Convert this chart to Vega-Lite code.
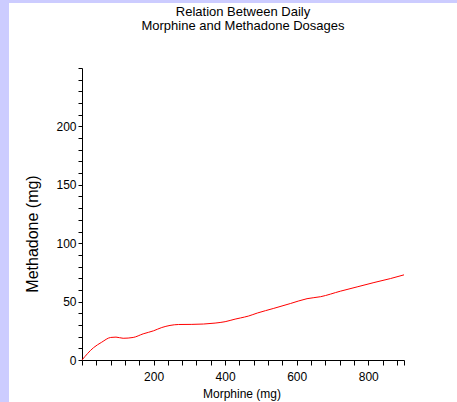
{
  "$schema": "https://vega.github.io/schema/vega-lite/v6.json",
  "autosize": {"type": "none"},
  "padding": {"left": 9, "top": 3, "right": 0, "bottom": 0},
  "width": 448,
  "height": 399,
  "background": "#ccccff",
  "config": {
    "view": {"fill": "white", "stroke": null},
    "font": "Liberation Sans",
    "axis": {
      "grid": false,
      "domainColor": "black",
      "tickColor": "black",
      "labelColor": "black",
      "titleColor": "black",
      "labelFont": "Liberation Sans",
      "titleFont": "Liberation Sans",
      "labelFontSize": 12,
      "titleFontWeight": "normal"
    }
  },
  "title": {
    "text": ["Relation Between Daily", "Morphine and Methadone Dosages"],
    "font": "Liberation Sans",
    "fontSize": 13,
    "fontWeight": "normal",
    "color": "black",
    "anchor": "middle",
    "baseline": "alphabetic",
    "lineHeight": 14.5,
    "offset": -40,
    "dx": 10
  },
  "data": {
    "values": [
      {"morphine": 0, "methadone": 0},
      {"morphine": 32, "methadone": 10.5},
      {"morphine": 55, "methadone": 15.2},
      {"morphine": 80, "methadone": 19.3},
      {"morphine": 95, "methadone": 19.6},
      {"morphine": 115, "methadone": 18.6},
      {"morphine": 143, "methadone": 19.3},
      {"morphine": 171, "methadone": 22.4},
      {"morphine": 200, "methadone": 25},
      {"morphine": 223, "methadone": 27.8},
      {"morphine": 246, "methadone": 29.6},
      {"morphine": 270, "methadone": 30.4},
      {"morphine": 307, "methadone": 30.5},
      {"morphine": 340, "methadone": 30.8},
      {"morphine": 372, "methadone": 31.6},
      {"morphine": 400, "methadone": 32.8},
      {"morphine": 428, "methadone": 35},
      {"morphine": 443, "methadone": 36},
      {"morphine": 465, "methadone": 37.6},
      {"morphine": 490, "methadone": 40.2},
      {"morphine": 536, "methadone": 44.2},
      {"morphine": 583, "methadone": 48.4},
      {"morphine": 629, "methadone": 52.5},
      {"morphine": 667, "methadone": 54.2},
      {"morphine": 722, "methadone": 58.9},
      {"morphine": 769, "methadone": 62.6},
      {"morphine": 816, "methadone": 66.3},
      {"morphine": 862, "methadone": 69.7},
      {"morphine": 900, "methadone": 72.9}
    ]
  },
  "mark": {"type": "line", "color": "#ff0000", "strokeWidth": 1, "interpolate": "monotone"},
  "encoding": {
    "x": {
      "field": "morphine",
      "type": "quantitative",
      "scale": {"domain": [0, 900], "range": [73, 395], "nice": false, "zero": false},
      "axis": {
        "orient": "bottom",
        "offset": -42,
        "title": "Morphine (mg)",
        "titleFontSize": 12,
        "titleBaseline": "alphabetic",
        "titleX": 232.5,
        "titleY": 37,
        "values": [0, 40, 80, 120, 160, 200, 240, 280, 320, 360, 400, 440, 480, 520, 560, 600, 640, 680, 720, 760, 800, 840, 880, 900],
        "labelExpr": "datum.value % 200 === 0 && datum.value > 0 && datum.value < 900 ? datum.label : ''",
        "tickSize": 5,
        "labelPadding": 6,
        "labelFlush": false,
        "labelOverlap": false
      }
    },
    "y": {
      "field": "methadone",
      "type": "quantitative",
      "scale": {"domain": [0, 250], "range": [357, 65], "nice": false, "zero": false},
      "axis": {
        "orient": "left",
        "offset": -73,
        "title": "Methadone (mg)",
        "titleFontSize": 16,
        "titleBaseline": "alphabetic",
        "titleAngle": 270,
        "titleAlign": "center",
        "titleX": -45,
        "titleY": 230.5,
        "values": [0, 10, 20, 30, 40, 50, 60, 70, 80, 90, 100, 110, 120, 130, 140, 150, 160, 170, 180, 190, 200, 210, 220, 230, 240, 250],
        "labelExpr": "datum.value % 50 === 0 && datum.value < 250 ? datum.label : ''",
        "tickSize": 4,
        "labelPadding": 2,
        "labelFlush": false,
        "labelOverlap": false
      }
    }
  }
}
